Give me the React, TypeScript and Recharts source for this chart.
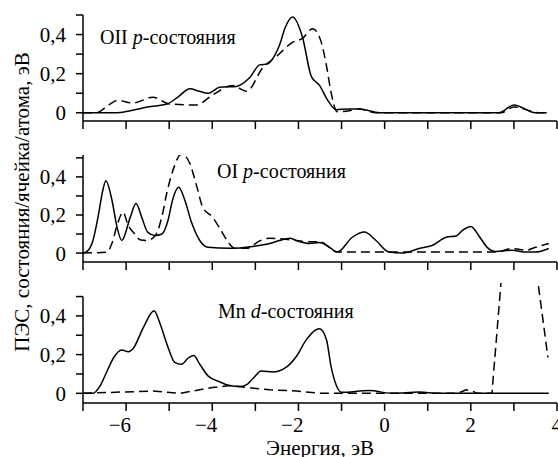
import React from "react";
import { LineChart, Line, XAxis, YAxis, ReferenceLine } from "recharts";

const FONT = '"Liberation Serif", "Times New Roman", Times, "DejaVu Serif", serif';

// energy ticks, eV
const xTicks = [-7, -6, -5, -4, -3, -2, -1, 0, 1, 2, 3, 4];
const yTicks = [0, 0.1, 0.2, 0.3, 0.4, 0.5];

// OII p-states
const oiiSolidE = [-7, -6.2, -5.8, -5.5, -5.05, -4.8, -4.52, -4.3, -4.1, -3.83, -3.44, -3.13, -2.9, -2.72, -2.56, -2.45, -2.3, -2.14, -1.91, -1.7, -1.51, -1.33, -1.12, -0.85, -0.59, -0.12, 1, 2.65, 3.0, 3.5, 3.76];
const oiiSolidDos = [0, 0, 0.015, 0.03, 0.045, 0.08, 0.123, 0.11, 0.1, 0.13, 0.135, 0.18, 0.245, 0.25, 0.29, 0.34, 0.44, 0.49, 0.39, 0.185, 0.14, 0.067, 0.015, 0.02, 0.02, 0, 0, 0, 0.04, 0, 0];
const oiiDashE = [-7, -6.7, -6.4, -6.2, -5.84, -5.38, -4.99, -4.37, -4.0, -3.53, -3.2, -2.83, -2.5, -2.14, -1.91, -1.67, -1.47, -1.35, -1.24, -1.1, -0.82, -0.59, -0.2, 2.7, 3.0, 3.6, 3.76];
const oiiDashDos = [0, 0, 0.04, 0.063, 0.05, 0.08, 0.045, 0.04, 0.09, 0.14, 0.11, 0.23, 0.29, 0.36, 0.38, 0.43, 0.36, 0.24, 0.1, 0.005, 0.01, 0.02, 0, 0, 0.03, 0, 0];

// OI p-states
const oiSolidE = [-7, -6.9, -6.77, -6.65, -6.54, -6.47, -6.33, -6.21, -6.1, -5.9, -5.77, -5.64, -5.5, -5.33, -5.17, -5.03, -4.92, -4.78, -4.64, -4.48, -4.29, -4.1, -3.6, -3.06, -2.67, -2.44, -2.2, -1.98, -1.75, -1.51, -1.28, -1.1, -0.75, -0.47, -0.2, 0.1, 0.4, 0.8, 1.1, 1.43, 1.66, 1.8, 2.0, 2.19, 2.38, 2.58, 2.95, 3.28, 3.5, 3.81];
const oiSolidDos = [0, 0.01, 0.065, 0.19, 0.33, 0.38, 0.28, 0.136, 0.066, 0.19, 0.26, 0.19, 0.11, 0.092, 0.1, 0.17, 0.28, 0.345, 0.28, 0.16, 0.066, 0.03, 0.025, 0.035, 0.05, 0.066, 0.078, 0.06, 0.05, 0.055, 0.03, 0.005, 0.083, 0.11, 0.066, 0.005, 0, 0.024, 0.04, 0.083, 0.09, 0.118, 0.14, 0.09, 0.03, 0.008, 0.015, 0.005, 0.005, 0.024];
const oiDashE = [-7, -6.44, -6.33, -6.19, -6.07, -5.96, -5.8, -5.68, -5.52, -5.33, -5.17, -5.06, -4.92, -4.71, -4.52, -4.36, -4.22, -4.0, -3.8, -3.64, -3.48, -3.2, -2.9, -2.67, -2.2, -1.81, -1.5, -1.28, -1.1, 2.6, 2.95, 3.28, 3.5, 3.81];
const oiDashDos = [0, 0.005, 0.05, 0.16, 0.215, 0.15, 0.1, 0.07, 0.066, 0.09, 0.19, 0.31, 0.43, 0.52, 0.47, 0.35, 0.24, 0.19, 0.12, 0.06, 0.025, 0.025, 0.064, 0.078, 0.07, 0.06, 0.06, 0.03, 0.005, 0.005, 0.024, 0.015, 0.03, 0.05];

// Mn d-states
const mnSolidE = [-7, -6.77, -6.6, -6.45, -6.3, -6.1, -5.95, -5.84, -5.6, -5.35, -5.22, -5.03, -4.87, -4.71, -4.57, -4.43, -4.29, -4.1, -3.83, -3.6, -3.37, -3.2, -3.06, -2.86, -2.6, -2.28, -2.05, -1.82, -1.58, -1.51, -1.35, -1.24, -1.12, -1.0, -0.36, 0.17, 0.8, 1.26, 3.81];
const mnSolidDos = [0, 0, 0.04, 0.11, 0.18, 0.224, 0.215, 0.23, 0.34, 0.426, 0.365, 0.24, 0.16, 0.15, 0.18, 0.195, 0.15, 0.09, 0.06, 0.04, 0.035, 0.045, 0.075, 0.115, 0.11, 0.135, 0.19, 0.276, 0.33, 0.333, 0.277, 0.135, 0.04, 0.005, 0.015, 0, 0.007, 0, 0];
const mnDashE = [-7, -5.38, -4.75, -4.45, -4.0, -3.6, -3.2, -2.67, -2.05, -1.5, -1.0, 1.7, 1.89, 2.03, 2.15, 2.49, 2.7, 3.02, 3.56, 3.79];
const mnDashDos = [0, 0.012, 0, 0.012, 0.03, 0.04, 0.03, 0.018, 0.012, 0, 0, 0, 0.018, 0.012, 0, 0, 0.57, 1.45, 0.57, 0.185];

const toPoints = (e: number[], v: number[]) => e.map((x, i) => ({ e: x, dos: v[i] }));

const axisStyle = { stroke: "#000", strokeWidth: 1.5 };

const fmtY = (v: number) => {
  const tenth = Math.round(v * 10);
  if (tenth % 2 !== 0) return "";
  return String(tenth / 10).replace(".", ",");
};

const XTick = (props: any) => {
  const { x, y, payload } = props;
  const v = payload.value;
  if (v % 2 !== 0) return <g />;
  const label = v < 0 ? "\u2212" + Math.abs(v) : String(v);
  return (
    <text x={x + 5} y={y} dy="0.71em" textAnchor="end" fill="#000" fontSize={21} style={{ fontFamily: FONT }}>
      {label}
    </text>
  );
};

type PanelProps = {
  top: number;
  height: number;
  marginTop: number;
  yDomain: [number, number];
  xAxisHeight: number;
  solid: { e: number; dos: number }[];
  dashed: { e: number; dos: number }[];
  dashedType: "monotone" | "linear";
  showXLabels: boolean;
  ownYLine?: boolean;
};

const Panel = (p: PanelProps) => (
  <div style={{ position: "absolute", left: 0, top: p.top }}>
    <LineChart width={558} height={p.height} margin={{ top: p.marginTop, right: 1, bottom: 0, left: 0 }}>
      <XAxis
        type="number"
        dataKey="e"
        domain={[-7, 4]}
        ticks={xTicks}
        interval={0}
        allowDataOverflow
        height={p.xAxisHeight}
        tickSize={8}
        tickMargin={6}
        axisLine={axisStyle}
        tickLine={axisStyle}
        tick={p.showXLabels ? <XTick /> : () => <g />}
      />
      <YAxis
        type="number"
        dataKey="dos"
        domain={p.yDomain}
        ticks={yTicks}
        interval={0}
        allowDataOverflow
        width={83}
        tickSize={7}
        tickMargin={10}
        tickFormatter={fmtY}
        axisLine={p.ownYLine ? false : axisStyle}
        tickLine={axisStyle}
        tick={{ fill: "#000", fontSize: 21, style: { fontFamily: FONT } }}
      />
      {p.ownYLine && (
        <ReferenceLine
          segment={[{ x: -7, y: p.yDomain[0] }, { x: -7, y: 0.5 }]}
          stroke="#000"
          strokeWidth={1.5}
          ifOverflow="visible"
        />
      )}
      <Line data={p.dashed} dataKey="dos" type={p.dashedType} stroke="#000" strokeWidth={1.5} strokeDasharray="9 5" dot={false} isAnimationActive={false} />
      <Line data={p.solid} dataKey="dos" type="monotone" stroke="#000" strokeWidth={1.5} dot={false} isAnimationActive={false} />
    </LineChart>
  </div>
);

const titleStyle: React.CSSProperties = {
  position: "absolute",
  fontFamily: FONT,
  fontSize: 20,
  lineHeight: "20px",
  whiteSpace: "nowrap",
  color: "#000",
};

export default function App() {
  return (
    <div style={{ position: "absolute", left: 0, top: 0, width: 558, height: 457, background: "#fff", overflow: "hidden", fontFamily: FONT }}>
      <Panel top={0} height={131} marginTop={15} yDomain={[-0.042, 0.5]} xAxisHeight={10}
        solid={toPoints(oiiSolidE, oiiSolidDos)} dashed={toPoints(oiiDashE, oiiDashDos)} dashedType="monotone" showXLabels={false} />
      <Panel top={140} height={132} marginTop={15} yDomain={[-0.047, 0.515]} xAxisHeight={10}
        solid={toPoints(oiSolidE, oiSolidDos)} dashed={toPoints(oiDashE, oiDashDos)} dashedType="monotone" showXLabels={false} />
      <Panel top={270} height={178} marginTop={13} yDomain={[-0.05, 0.57]} xAxisHeight={45}
        solid={toPoints(mnSolidE, mnSolidDos)} dashed={toPoints(mnDashE, mnDashDos)} dashedType="linear" showXLabels ownYLine />

      <div style={{ ...titleStyle, left: 100, top: 27 }}>OII <i>p</i>-состояния</div>
      <div style={{ ...titleStyle, left: 217, top: 161 }}>OI <i>p</i>-состояния</div>
      <div style={{ ...titleStyle, left: 218, top: 301 }}>Mn <i>d</i>-состояния</div>

      <div style={{ ...titleStyle, fontSize: 21, lineHeight: "21px", left: 320, top: 438, transform: "translateX(-50%)" }}>Энергия, эВ</div>
      <div style={{ ...titleStyle, fontSize: 21, lineHeight: "21px", left: 22, top: 202, transform: "translate(-50%, -50%) rotate(-90deg)" }}>
        ПЭС, состояния/ячейка/атома, эВ
      </div>
    </div>
  );
}
